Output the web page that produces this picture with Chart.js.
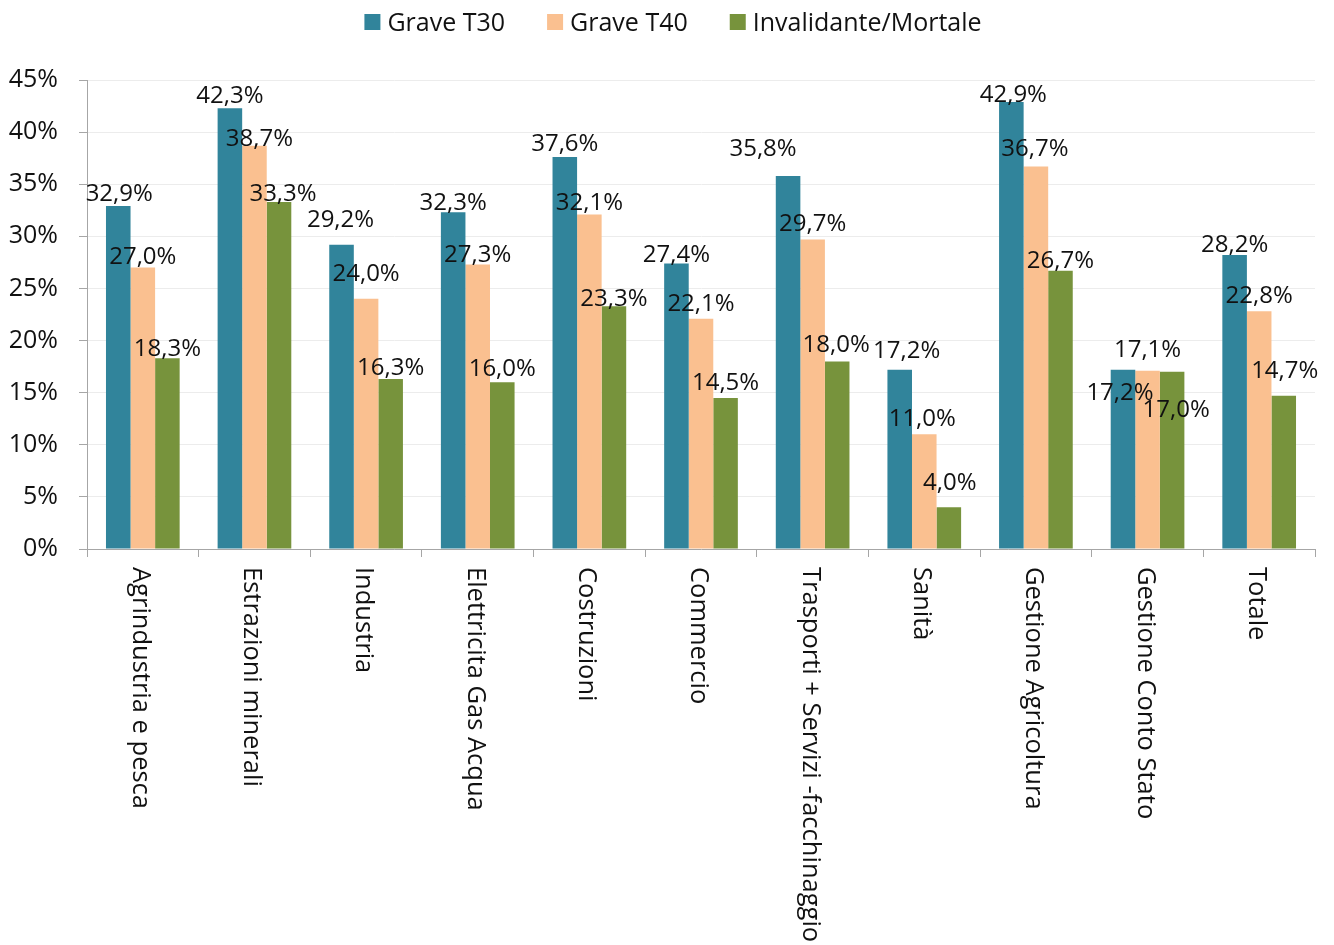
<!DOCTYPE html>
<html>
<head>
<meta charset="utf-8">
<script src="https://cdn.jsdelivr.net/npm/chart.js@4.4.1/dist/chart.umd.min.js"></script>
<style>
  body { margin: 0; background: #fff; }
  #wrap { width: 1334px; height: 945px; }
</style>
</head>
<body>
<div id="wrap"><canvas id="chart"></canvas></div>
<script>
// DATA

const categories = [
  "Agrindustria e pesca",
  "Estrazioni minerali",
  "Industria",
  "Elettricita Gas Acqua",
  "Costruzioni",
  "Commercio",
  "Trasporti + Servizi -facchinaggio",
  "Sanità",
  "Gestione Agricoltura",
  "Gestione Conto Stato",
  "Totale"
];

const seriesNames = ["Grave T30", "Grave T40", "Invalidante/Mortale"];

const graveT30 = [32.9, 42.3, 29.2, 32.3, 37.6, 27.4, 35.8, 17.2, 42.9, 17.2, 28.2];
const graveT40 = [27.0, 38.7, 24.0, 27.3, 32.1, 22.1, 29.7, 11.0, 36.7, 17.1, 22.8];
const invalidante = [18.3, 33.3, 16.3, 16.0, 23.3, 14.5, 18.0, 4.0, 26.7, 17.0, 14.7];

const yTickValues = [0, 5, 10, 15, 20, 25, 30, 35, 40, 45];

// where each value label sits relative to its bar top (as in the original)
const labelDy = [
  [-14, -14, -26, -11, -15, -10, -28, -20, -8, 22, -12],
  [-12, -8, -26, -11, -13, -16, -17, -17, -19, -22, -17],
  [-11, -9, -13, -15, -9, -16, -18, -26, -11, 37, -26]
];
const labelDx = [
  [1, 0, -1, 0, 0, 0, -25, 7, 2, -3, 0],
  [0, 5, 0, 0, 0, 0, 0, -2, -1, 0, 0],
  [0, 4, 0, 0, 0, 0, -1, 1, 0, 4, 1]
];

// STYLE

const colors = ["#31849B", "#FAC090", "#77933C"];
const textColor = "#111111";
const axisColor = "#a6a6a6";
const fontFamily = "'Open Sans', sans-serif";

Chart.defaults.font.family = fontFamily;
Chart.defaults.font.size = 25;
Chart.defaults.color = textColor;

function fmt(v) {
  return v.toFixed(1).replace(".", ",") + "%";
}

// PLUGINS

const valueLabels = {
  id: "valueLabels",
  afterDatasetsDraw(chart) {
    const ctx = chart.ctx;
    ctx.save();
    ctx.font = "24px " + fontFamily;
    ctx.fillStyle = textColor;
    ctx.textAlign = "center";
    ctx.textBaseline = "alphabetic";
    chart.data.datasets.forEach((ds, i) => {
      chart.getDatasetMeta(i).data.forEach((bar, j) => {
        // label center -> baseline (cap height ~17px)
        ctx.fillText(fmt(ds.data[j]), bar.x + labelDx[i][j], bar.y + labelDy[i][j] + 8.5);
      });
    });
    ctx.restore();
  }
};

const categoryLabels = {
  id: "categoryLabels",
  afterDraw(chart) {
    const ctx = chart.ctx;
    const xa = chart.scales.x;
    ctx.save();
    ctx.font = "25.5px " + fontFamily;
    ctx.fillStyle = textColor;
    ctx.textAlign = "left";
    ctx.textBaseline = "alphabetic";
    categories.forEach((c, i) => {
      const x = xa.getPixelForValue(i);
      ctx.save();
      ctx.translate(x - 10, chart.chartArea.bottom + 18);
      ctx.rotate(Math.PI / 2);
      ctx.fillText(c, 0, 0);
      ctx.restore();
    });
    ctx.restore();
  }
};

const topLegend = {
  id: "topLegend",
  afterDraw(chart) {
    const ctx = chart.ctx;
    ctx.save();
    ctx.font = "25px " + fontFamily;
    ctx.textBaseline = "alphabetic";
    const box = 16, gapText = 7, gapItem = 42;
    const widths = seriesNames.map(n => ctx.measureText(n).width);
    const total = widths.reduce((a, w) => a + box + gapText + w, 0) + gapItem * (seriesNames.length - 1);
    let x = chart.width / 2 - total / 2 + 6;
    const cy = 22;
    seriesNames.forEach((name, i) => {
      ctx.fillStyle = colors[i];
      ctx.fillRect(x, cy - box / 2, box, box);
      ctx.fillStyle = textColor;
      ctx.fillText(name, x + box + gapText, cy + 9);
      x += box + gapText + widths[i] + gapItem;
    });
    ctx.restore();
  }
};

// CHART

const seriesData = [graveT30, graveT40, invalidante];

new Chart(document.getElementById("chart"), {
  type: "bar",
  data: {
    labels: categories,
    datasets: seriesNames.map((name, i) => ({
      label: name,
      data: seriesData[i],
      backgroundColor: colors[i],
      borderWidth: 0
    }))
  },
  options: {
    responsive: true,
    maintainAspectRatio: false,
    animation: false,
    layout: { padding: { top: 80, right: 19, bottom: 388, left: 0 } },
    datasets: { bar: { categoryPercentage: 0.66, barPercentage: 1.0 } },
    plugins: {
      legend: { display: false },
      tooltip: { enabled: false }
    },
    scales: {
      x: {
        grid: {
          display: true,
          drawOnChartArea: false,
          drawTicks: true,
          tickLength: 8,
          tickColor: axisColor,
          offset: true
        },
        border: { color: axisColor, width: 1 },
        ticks: { display: false }
      },
      y: {
        min: 0,
        max: 45,
        afterBuildTicks(scale) {
          scale.ticks = yTickValues.map(v => ({ value: v }));
        },
        afterFit(scale) {
          scale.width = 87;
        },
        ticks: {
          padding: 21,
          color: textColor,
          font: { size: 25 },
          callback: v => v + "%"
        },
        grid: { color: "#ececec", tickColor: axisColor, tickLength: 8 },
        border: { color: axisColor, width: 1 }
      }
    }
  },
  plugins: [valueLabels, categoryLabels, topLegend]
});
</script>
</body>
</html>
